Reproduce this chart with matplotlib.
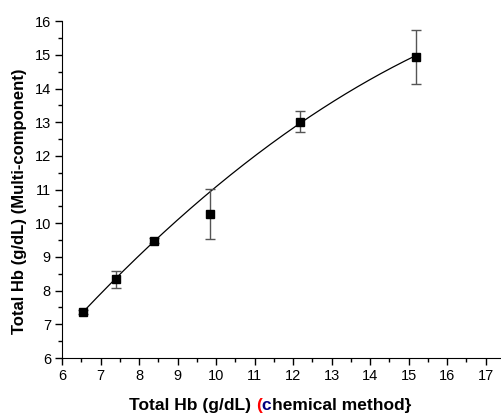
import numpy as np
import matplotlib
matplotlib.use("Agg")
import matplotlib.pyplot as plt
from matplotlib.offsetbox import TextArea, HPacker, AnchoredOffsetbox

plt.rcParams['font.family'] = ['Liberation Sans', 'DejaVu Sans']

x_chem = [6.55, 7.40, 8.40, 9.84, 12.18, 15.19]
y_multi = [7.37, 8.34, 9.48, 10.28, 13.01, 14.94]
y_err = [0.05, 0.25, 0.07, 0.74, 0.31, 0.80]

fig = plt.figure(figsize=(5.01, 4.15), dpi=100)
ax = fig.add_axes([0.1238, 0.1373, 0.8762, 0.8116])

coef = np.polyfit(x_chem, y_multi, 2, w=1 / np.array(y_err))
xs = np.linspace(min(x_chem), max(x_chem), 200)
ax.plot(xs, np.polyval(coef, xs), color='black', lw=0.9, zorder=2)

ax.errorbar(x_chem, y_multi, yerr=y_err, fmt='s', color='black', ms=6,
            ecolor='#555555', elinewidth=1.0, capsize=3.5, capthick=1.0, zorder=3)

ax.set_xlim(6, 17.4)
ax.set_ylim(6, 16)
ax.set_xticks(range(6, 18))
ax.set_yticks(range(6, 17))
ax.set_xticks(np.arange(6.5, 17.4, 1), minor=True)
ax.set_yticks(np.arange(6.5, 16, 1), minor=True)
for s in ['top', 'right']:
    ax.spines[s].set_visible(False)
ax.tick_params(which='major', direction='out', length=5, width=1, labelsize=10.5, pad=3)
ax.tick_params(which='minor', direction='out', length=3, width=1)

fig.text(20/501, 1 - 201/415, 'Total Hb (g/dL) (Multi-component)', rotation=90,
         ha='center', va='center', fontsize=12, fontweight='bold')

props = dict(fontsize=12.5, fontweight='bold', fontfamily='Liberation Sans')
parts = [TextArea('Total Hb (g/dL) ', textprops=dict(color='black', **props)),
         TextArea('(', textprops=dict(color='red', **props)),
         TextArea('c', textprops=dict(color='#000080', **props)),
         TextArea('hemical method}', textprops=dict(color='black', **props))]
box = HPacker(children=parts, align='baseline', pad=0, sep=0)
anch = AnchoredOffsetbox(loc='center', child=box, pad=0, frameon=False,
                         bbox_to_anchor=(270/501, 1 - 405/415), bbox_transform=fig.transFigure)
fig.add_artist(anch)

fig.savefig('out.png', dpi=100)
